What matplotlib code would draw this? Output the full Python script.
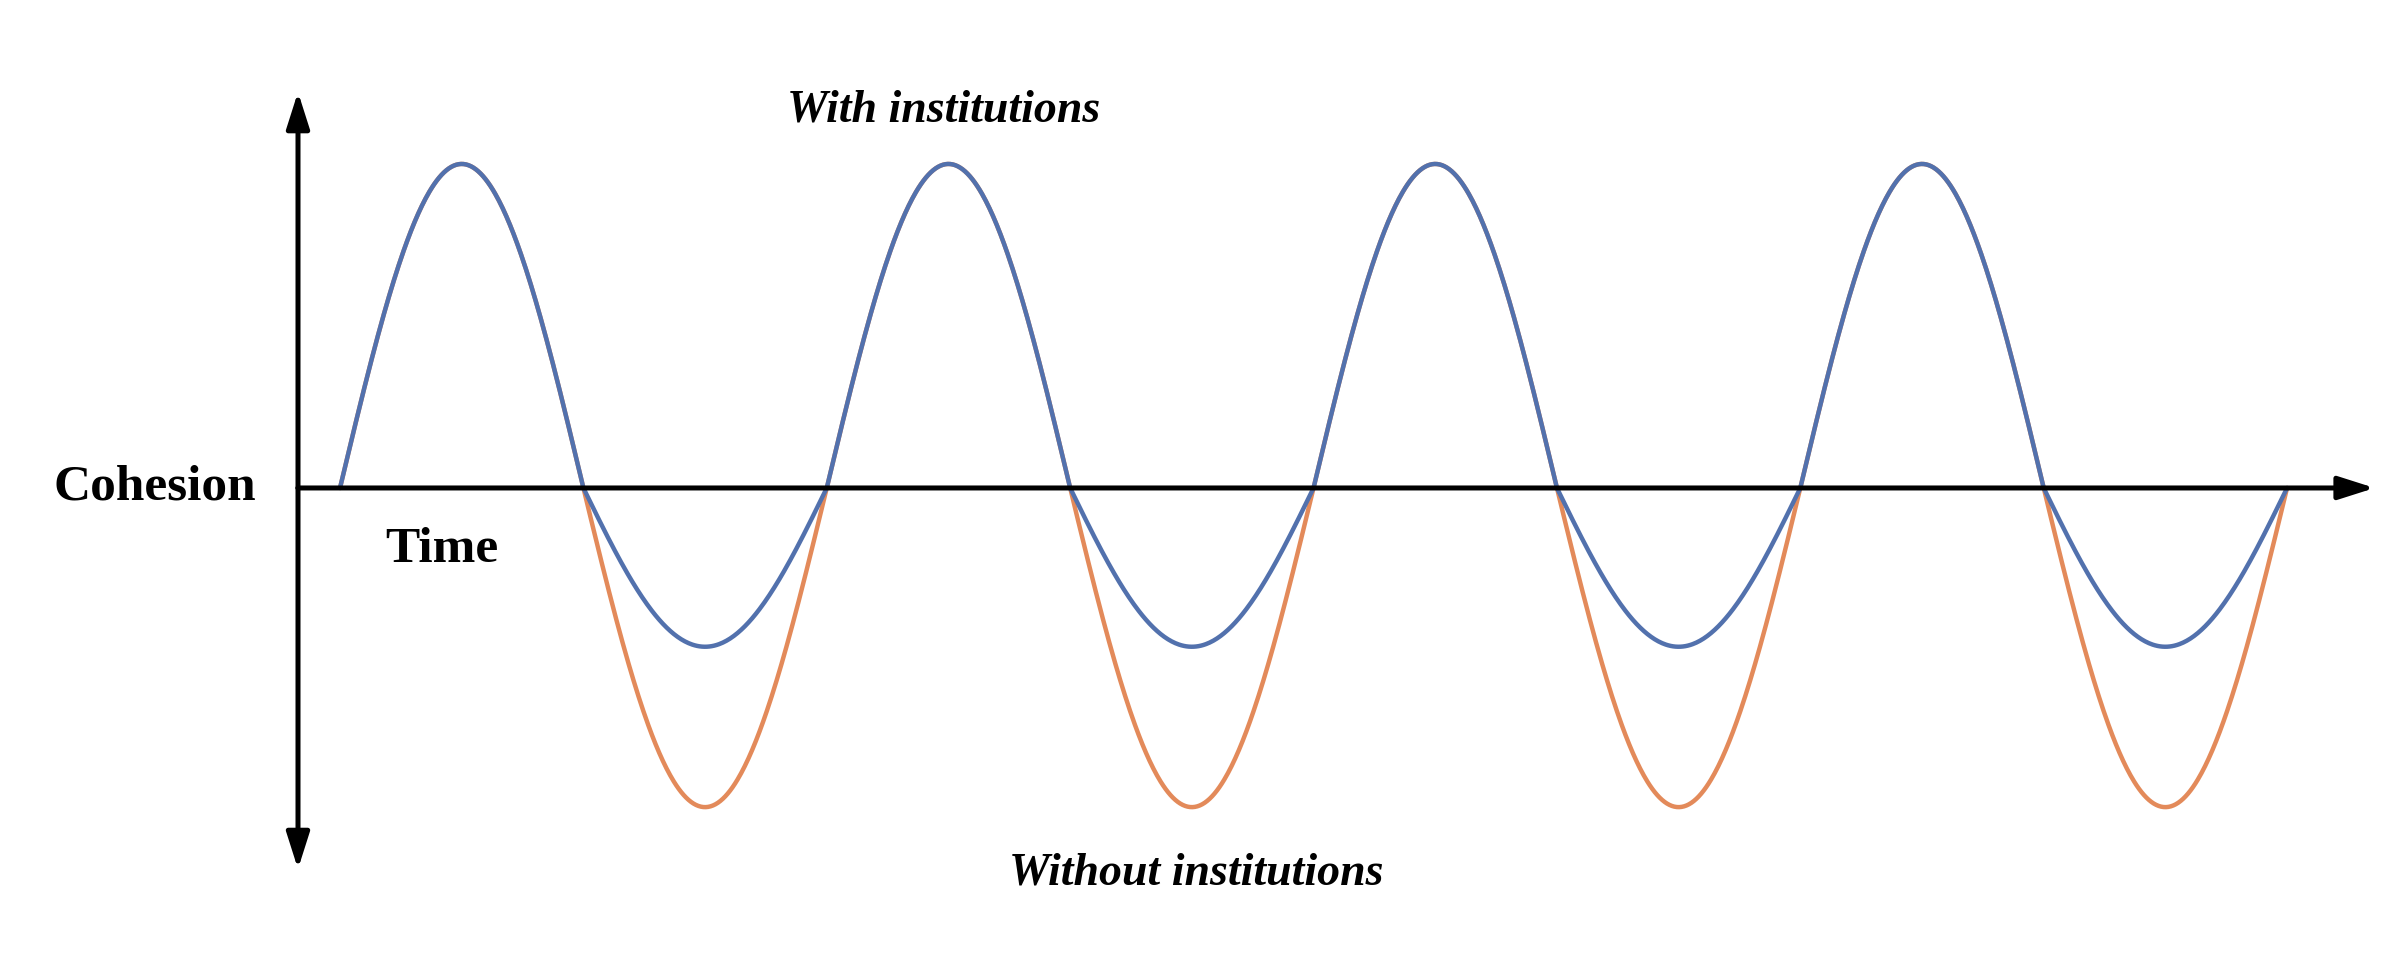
import numpy as np
import matplotlib
matplotlib.use("Agg")
import matplotlib.pyplot as plt
from matplotlib.path import Path
from matplotlib.patches import PathPatch

# Data: amplitude of each half-cycle of the cohesion wave (time in half-cycle units)
half_cycles = [0, 1, 2, 3, 4, 5, 6, 7]
with_institutions = [1.0, -0.49, 1.0, -0.49, 1.0, -0.49, 1.0, -0.49]
without_institutions = [1.0, -0.985, 1.0, -0.985, 1.0, -0.985, 1.0, -0.985]

labels = {
    "top": "With institutions",
    "bottom": "Without institutions",
    "y": "Cohesion",
    "x": "Time",
}

BLUE = "#5271ad"
ORANGE = "#e38a5a"


def wave(amps, n=200):
    xs, ys = [], []
    for k, a in zip(half_cycles, amps):
        t = np.linspace(0, 1, n)
        xs.append(k + t)
        ys.append(a * np.sin(np.pi * t))
    return np.concatenate(xs), np.concatenate(ys)


fig = plt.figure(figsize=(24, 9.74), dpi=100)
ax = fig.add_axes([0, 0, 1, 1])
ax.set_xlim(-1.397, 8.464)
ax.set_ylim(-1.50, 1.506)
ax.axis("off")

xo, yo = wave(without_institutions)
xb, yb = wave(with_institutions)
ax.plot(xo, yo, color=ORANGE, lw=3.2, solid_capstyle="round", zorder=2)
ax.plot(xb, yb, color=BLUE, lw=3.2, solid_capstyle="round", zorder=3)

# Axes arrows
yaxis_x = -0.1726
arrow_kw = dict(arrowstyle="-|>,head_length=2.2,head_width=0.7", color="black",
                lw=3.6, shrinkA=0, shrinkB=0)
ax.annotate("", xy=(yaxis_x, 1.222), xytext=(yaxis_x, 0.0), arrowprops=arrow_kw, zorder=4)
ax.annotate("", xy=(yaxis_x, -1.176), xytext=(yaxis_x, 0.0), arrowprops=arrow_kw, zorder=4)
ax.annotate("", xy=(8.36, 0.0), xytext=(yaxis_x, 0.0), arrowprops=arrow_kw, zorder=4)

serif = ["Liberation Serif", "DejaVu Serif"]
ax.text(2.48, 1.165, labels["top"], family=serif, style="italic", weight="bold",
        fontsize=33, ha="center", va="center")
ax.text(3.52, -1.19, labels["bottom"], family=serif, style="italic", weight="bold",
        fontsize=33, ha="center", va="center")
ax.text(-0.76, 0.0, labels["y"], family=serif, weight="bold",
        fontsize=37, ha="center", va="center")
ax.text(0.42, -0.19, labels["x"], family=serif, weight="bold",
        fontsize=37, ha="center", va="center")

fig.savefig("out.png", dpi=100, facecolor="white")
